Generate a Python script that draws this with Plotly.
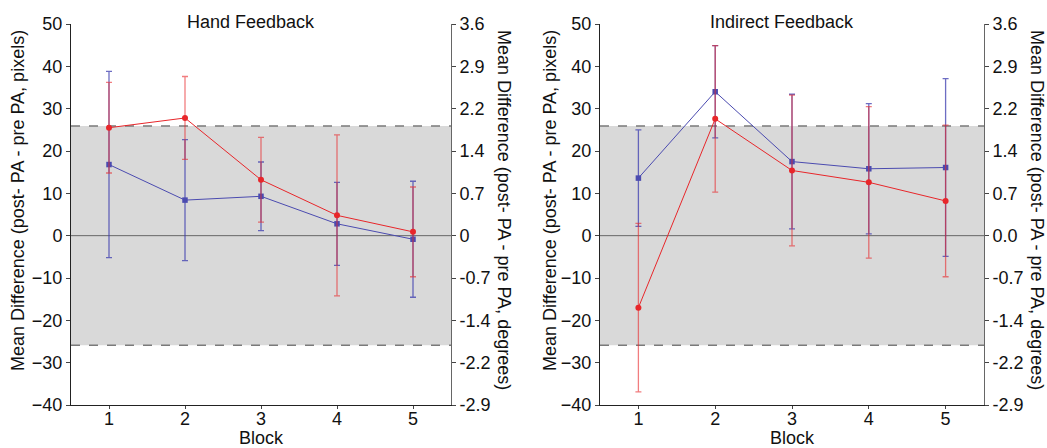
import plotly.graph_objects as go

# ---- data -------------------------------------------------------------
blocks = [1, 2, 3, 4, 5]

hand_red_mean = [25.5, 27.8, 13.2, 4.8, 0.9]
hand_red_err = [10.7, 9.8, 10.0, 19.0, 10.6]
hand_blue_mean = [16.8, 8.4, 9.3, 2.8, -0.85]
hand_blue_err = [22.0, 14.3, 8.1, 9.8, 13.7]

ind_red_mean = [-17.0, 27.6, 15.4, 12.6, 8.2]
ind_red_err = [19.9, 17.3, 17.8, 17.9, 17.9]
ind_blue_mean = [13.6, 34.0, 17.5, 15.8, 16.1]
ind_blue_err = [11.4, 10.9, 15.9, 15.4, 21.0]

band_limit = 25.9  # shaded tolerance band (pixels)

px_ticks = [-40, -30, -20, -10, 0, 10, 20, 30, 40, 50]
deg_labels_hand = ["-2.9", "-2.2", "-1.4", "-0.7", "0", "0.7", "1.4", "2.2", "2.9", "3.6"]
deg_labels_ind = ["-2.9", "-2.2", "-1.4", "-0.7", "0.0", "0.7", "1.4", "2.2", "2.9", "3.6"]

panel_titles = ["Hand Feedback", "Indirect Feedback"]

# ---- styling ----------------------------------------------------------
W, H = 1047, 448
FONT = "Liberation Sans, Arial, Helvetica, sans-serif"
FS = 18
RED = "#e8262a"
RED_ERR = "rgba(232,38,42,0.6)"
BLUE = "#4b4bb0"
BLUE_ERR = "rgba(60,60,175,0.75)"

plot_top, plot_bot = 24, 405
left_x = (71, 451)
right_x = (600, 984)


def px(x):
    return x / W


def py(y):
    return 1 - y / H


fig = go.Figure()

panels = [
    dict(xa="x", ya="y", ya2="y2", red=(hand_red_mean, hand_red_err),
         blue=(hand_blue_mean, hand_blue_err)),
    dict(xa="x3", ya="y3", ya2="y4", red=(ind_red_mean, ind_red_err),
         blue=(ind_blue_mean, ind_blue_err)),
]

for p in panels:
    bm, be = p["blue"]
    rm, re_ = p["red"]
    fig.add_trace(go.Scatter(
        x=blocks, y=bm, xaxis=p["xa"], yaxis=p["ya"], mode="lines+markers",
        line=dict(color=BLUE, width=1),
        marker=dict(symbol="square", size=5.5, color=BLUE),
        error_y=dict(type="data", array=be, color=BLUE_ERR, thickness=1.3, width=3),
        showlegend=False))
    fig.add_trace(go.Scatter(
        x=blocks, y=rm, xaxis=p["xa"], yaxis=p["ya"], mode="lines+markers",
        line=dict(color=RED, width=1),
        marker=dict(symbol="circle", size=6, color=RED),
        error_y=dict(type="data", array=re_, color=RED_ERR, thickness=1.3, width=3),
        showlegend=False))
    # invisible trace so the secondary (degrees) axis is drawn
    fig.add_trace(go.Scatter(
        x=[1], y=[0], xaxis=p["xa"], yaxis=p["ya2"], mode="markers",
        marker=dict(opacity=0), hoverinfo="skip", showlegend=False))

ydom = [py(plot_bot), py(plot_top)]
tickfont = dict(family=FONT, size=FS, color="#111")

common_x = dict(range=[0.5, 5.5], tickvals=blocks, ticks="outside", ticklen=3,
                showline=True, linecolor="#222", linewidth=1, showgrid=False,
                zeroline=False, tickfont=tickfont, automargin=False,
                ticklabelstandoff=-6)
common_y = dict(range=[-40, 50], tickvals=px_ticks, ticks="outside", ticklen=4,
                showline=True, linecolor="#222", linewidth=1, showgrid=False,
                zeroline=False, tickfont=tickfont, automargin=False)
common_y2 = dict(side="right", range=[-40, 50], tickvals=px_ticks, ticks="outside",
                 ticklen=4, showline=True, linecolor="#666", linewidth=1,
                 showgrid=False, zeroline=False, tickfont=tickfont, automargin=False)

fig.update_layout(
    width=W, height=H,
    margin=dict(l=0, r=0, t=0, b=0, pad=0),
    paper_bgcolor="white", plot_bgcolor="white",
    font=dict(family=FONT, size=FS, color="#111"),
    xaxis=dict(domain=[px(left_x[0]), px(left_x[1])], anchor="y", **common_x),
    yaxis=dict(domain=ydom, anchor="x", **common_y),
    yaxis2=dict(overlaying="y", anchor="x", ticktext=deg_labels_hand, **common_y2),
    xaxis3=dict(domain=[px(right_x[0]), px(right_x[1])], anchor="y3", **common_x),
    yaxis3=dict(domain=ydom, anchor="x3", **common_y),
    yaxis4=dict(overlaying="y3", anchor="x3", ticktext=deg_labels_ind, **common_y2),
)

shapes = []
for xr, yr in [("x", "y"), ("x3", "y3")]:
    xd = "x domain" if xr == "x" else "x3 domain"
    shapes.append(dict(type="rect", xref=xd, yref=yr, x0=0, x1=1,
                       y0=-band_limit, y1=band_limit, fillcolor="#d9d9d9",
                       line=dict(width=0), layer="below"))
    for yv in (band_limit, -band_limit):
        shapes.append(dict(type="line", xref=xd, yref=yr, x0=0, x1=1, y0=yv, y1=yv,
                           line=dict(color="#7a7a7a", width=1.6, dash="dash"),
                           layer="below"))
    shapes.append(dict(type="line", xref=xd, yref=yr, x0=0, x1=1, y0=0, y1=0,
                       line=dict(color="#666", width=1), layer="below"))
fig.update_layout(shapes=shapes)

ann = []
ytitle_px = "Mean Difference (post- PA - pre PA, pixels)"
ytitle_deg = "Mean Difference (post- PA - pre PA, degrees)"
for (x0, x1), title, lx, rx in [(left_x, panel_titles[0], 18, 504),
                                (right_x, panel_titles[1], 550, 1037)]:
    cx = (x0 + x1) / 2
    ann.append(dict(text=title, x=px(cx - 10), y=py(22), xref="paper", yref="paper",
                    showarrow=False, font=dict(size=FS), xanchor="center", yanchor="middle"))
    ann.append(dict(text="Block", x=px(cx), y=py(438), xref="paper", yref="paper",
                    showarrow=False, font=dict(size=FS), xanchor="center", yanchor="middle"))
    ann.append(dict(text=ytitle_px, x=px(lx), y=py(201), xref="paper", yref="paper",
                    showarrow=False, textangle=-90, font=dict(size=FS),
                    xanchor="center", yanchor="middle"))
    ann.append(dict(text=ytitle_deg, x=px(rx), y=py(210), xref="paper", yref="paper",
                    showarrow=False, textangle=90, font=dict(size=FS),
                    xanchor="center", yanchor="middle"))
fig.update_layout(annotations=ann)

fig.write_html("out.html")
